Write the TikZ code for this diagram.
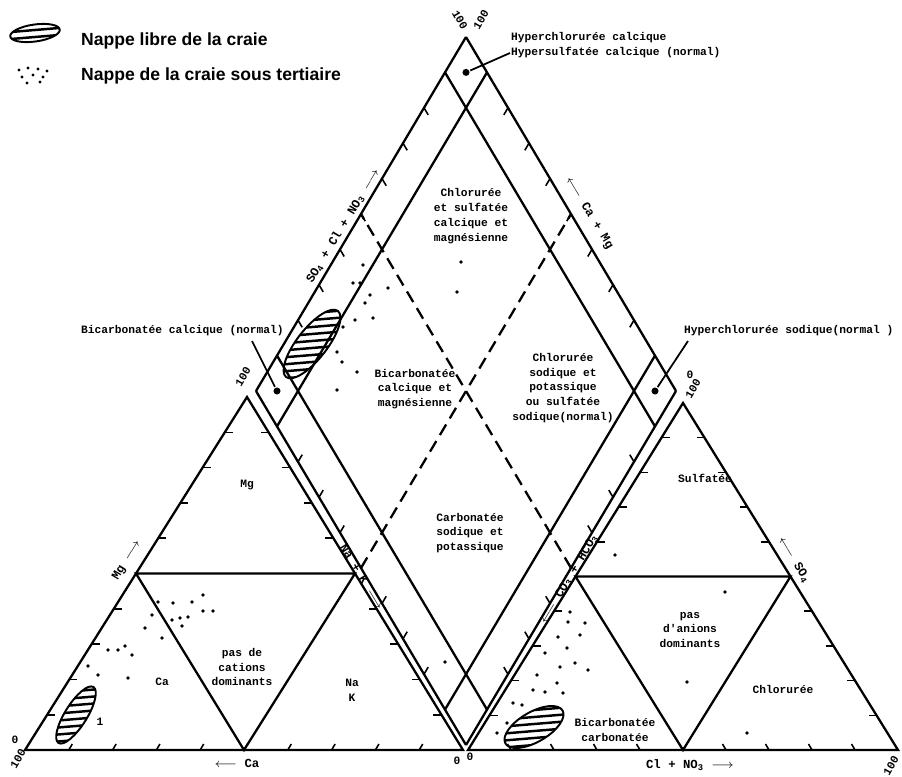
\documentclass[tikz,border=0pt]{standalone}
\usepackage{fontspec}
\setmainfont{Liberation Sans}
\newfontfamily\lblfont{Liberation Mono}
\usetikzlibrary{calc}

% hatched patch: x, y, angle, x radius, y radius
\newcommand{\craieblob}[5]{%
  \begin{scope}
    \clip[rotate around={#3:(#1,#2)}] (#1,#2) ellipse [x radius=#4, y radius=#5];
    \foreach \h in {-54,-47,...,54}
      \draw[line width=1.4pt] ($(#1,#2)+(-60,\h)$) -- ++(120,-10);
  \end{scope}
  \draw[line width=1.1pt,rotate around={#3:(#1,#2)}] (#1,#2) ellipse [x radius=#4, y radius=#5];
}

\begin{document}
\begin{tikzpicture}[x=0.02cm,y=-0.02cm,line width=1.3pt,
  lbl/.style={font=\lblfont\bfseries\fontsize{6.4}{8.4}\selectfont,inner sep=0pt,align=center},
  axis/.style={font=\lblfont\bfseries\fontsize{7}{8}\selectfont,inner sep=0pt},
  legend/.style={font=\bfseries\fontsize{10}{12}\selectfont,inner sep=0pt,anchor=west},
  dot/.style={circle,fill,inner sep=0pt,minimum size=4pt},
  tick/.style={line width=0.9pt},
  pointer/.style={line width=1pt}]
\useasboundingbox (0,0) rectangle (902,777);

% legend
\craieblob{35}{33}{8}{0.5cm}{0.17cm}
\node[legend] (leglibre) at (80,41) {Nappe libre de la craie};
\foreach \p in {(19,70),(28,68),(38,69),(47,71),(22,77),(33,75),(43,77),(27,83),(40,82)}
  \fill \p circle (1.6);
\node[legend] (legtert) at (80,76) {Nappe de la craie sous tertiaire};

% losange
\coordinate (B) at (466,745);
\coordinate (L) at (256,391);
\coordinate (R) at (676,391);
\coordinate (T) at (466,37);
\foreach \v in {0,0.1,0.9,1}{
  \draw ($(B)!\v!(R)$) -- ($(L)!\v!(T)$);
  \draw ($(B)!\v!(L)$) -- ($(R)!\v!(T)$);
}
\draw[dash pattern=on 7pt off 4pt] ($(B)!0.5!(R)$) -- ($(L)!0.5!(T)$);
\draw[dash pattern=on 7pt off 4pt] ($(B)!0.5!(L)$) -- ($(R)!0.5!(T)$);
\foreach \k in {1,...,9}{
  \draw[tick] ($(B)!\k/10!(L)$) -- ++(4.2,-7.1);
  \draw[tick] ($(R)!\k/10!(T)$) -- ++(-4.2,7.1);
  \draw[tick] ($(B)!\k/10!(R)$) -- ++(-4.2,-7.1);
  \draw[tick] ($(L)!\k/10!(T)$) -- ++(4.2,7.1);
}

% triangle des cations
\coordinate (caV) at (25,750);
\coordinate (nakV) at (463,750);
\coordinate (mgV) at (247,397);
\draw (caV) -- (nakV) -- (mgV) -- cycle;
\draw ($(caV)!0.5!(mgV)$) -- ($(nakV)!0.5!(mgV)$) -- ($(caV)!0.5!(nakV)$) -- cycle;

% triangle des anions
\coordinate (hco3V) at (468,750);
\coordinate (clV) at (898,750);
\coordinate (so4V) at (683,403);
\draw (hco3V) -- (clV) -- (so4V) -- cycle;
\draw ($(hco3V)!0.5!(so4V)$) -- ($(clV)!0.5!(so4V)$) -- ($(hco3V)!0.5!(clV)$) -- cycle;

\foreach \k in {1,...,9}{
  \draw[tick] ($(caV)!\k/10!(nakV)$) -- ++(3.5,-6);
  \draw[tick] ($(caV)!\k/10!(mgV)$) -- ++(8,0);
  \draw[tick] ($(nakV)!\k/10!(mgV)$) -- ++(-8,0);
  \draw[tick] ($(hco3V)!\k/10!(clV)$) -- ++(-3.5,-6);
  \draw[tick] ($(hco3V)!\k/10!(so4V)$) -- ++(8,0);
  \draw[tick] ($(clV)!\k/10!(so4V)$) -- ++(-8,0);
}

% nappe libre
\craieblob{76}{715}{58}{0.66cm}{0.22cm}
\craieblob{312}{344}{52}{0.84cm}{0.3cm}
\craieblob{534}{727}{30}{0.66cm}{0.3cm}

% nappe sous tertiaire
\foreach \p in {(158,602),(173,603),(192,602),(203,595),(152,615),(172,620),(180,618),(188,617),
    (203,611),(213,611),(145,628),(162,638),(182,626),(108,650),(118,650),(125,646),(132,655),
    (88,666),(98,675),(128,678),
    (363,265),(353,283),(388,288),(343,327),(355,320),(373,318),(337,352),(342,362),(357,372),
    (337,390),(360,283),(365,303),(370,295),(461,262),(457,292),(445,662),
    (570,612),(568,622),(585,623),(558,637),(580,635),(567,648),(545,653),(560,667),(575,663),
    (588,670),(537,675),(557,683),(545,692),(563,693),(533,690),(513,703),(522,705),(507,723),
    (497,733),(615,555),(725,592),(687,682),(747,733)}
  \fill \p circle (1.9);

% faciès
\node[dot] (topdot) at ($(T)!0.05!(B)$) {};
\node[dot] (leftdot) at ($(L)!0.05!(R)$) {};
\node[dot] (rightdot) at ($(R)!0.05!(L)$) {};
\node[lbl,anchor=west] (hcc) at (510,38) {Hyperchlorurée calcique};
\node[lbl,anchor=west] (hsc) at (510,53) {Hypersulfatée calcique (normal)};
\draw[pointer] (hsc.west) -- (topdot);
\node[lbl,anchor=west] (bcn) at (80,331) {Bicarbonatée calcique (normal)};
\coordinate (bcnfoot) at (252,341);
\draw[pointer] (bcnfoot) -- (leftdot);
\node[lbl,anchor=west] (hcs) at (683,331) {Hyperchlorurée sodique(normal )};
\coordinate (hcsfoot) at (688,341);
\draw[pointer] (hcsfoot) -- (rightdot);

\node[lbl] (zone1) at (471,216) {Chlorurée\\et sulfatée\\calcique et\\magnésienne};
\node[lbl] (zone2) at (415,389) {Bicarbonatée\\calcique et\\magnésienne};
\node[lbl] (zone3) at (563,388) {Chlorurée\\sodique et\\potassique\\ou sulfatée\\sodique(normal)};
\node[lbl] (zone4) at (470,533) {Carbonatée\\sodique et\\potassique};
\node[lbl] (mgzone) at (247,485) {Mg};
\node[lbl] (cazone) at (162,682) {Ca};
\node[lbl] (paszone) at (242,667) {pas de\\cations\\dominants};
\node[lbl] (nakzone) at (352,690) {Na\\K};
\node[lbl] (one) at (100,722) {1};
\node[lbl] (sulfzone) at (705,478) {Sulfatée};
\node[lbl] (anzone) at (690,630) {pas\\d'anions\\dominants};
\node[lbl] (clzone) at (783,689) {Chlorurée};
\node[lbl] (bicarbzone) at (615,730) {Bicarbonatée\\carbonatée};

% axes
\node[axis,rotate=59] (mgax) at (127,560) {Mg $\longrightarrow$};
\node[axis] (caax) at (237,763) {$\longleftarrow$ Ca};
\node[axis,rotate=-59] (nakax) at (362,577) {Na + K $\longrightarrow$};
\node[axis,rotate=59] (co3ax) at (569,579) {$\longleftarrow$ CO\textsubscript{3} + HCO\textsubscript{3}};
\node[axis,rotate=-59] (so4ax) at (794,560) {$\longleftarrow$ SO\textsubscript{4}};
\node[axis] (clax) at (690,765) {Cl + NO\textsubscript{3} $\longrightarrow$};
\node[axis,rotate=59] (anax) at (343,226) {SO\textsubscript{4} + Cl + NO\textsubscript{3} $\longrightarrow$};
\node[axis,rotate=-59] (catax) at (589,213) {$\longleftarrow$ Ca + Mg};

\node[lbl,rotate=-60] (top100a) at (460,20) {100};
\node[lbl,rotate=60] (top100b) at (481,20) {100};
\node[lbl,rotate=60] (left100) at (243,377) {100};
\node[lbl] (right0) at (690,375) {0};
\node[lbl,rotate=60] (right100) at (693,389) {100};
\node[lbl] (bl0) at (15,740) {0};
\node[lbl,rotate=60] (bl100) at (18,759) {100};
\node[lbl] (bc0a) at (457,761) {0};
\node[lbl] (bc0b) at (470,757) {0};
\node[lbl,rotate=60] (br100) at (891,766) {100};
\end{tikzpicture}
\end{document}
